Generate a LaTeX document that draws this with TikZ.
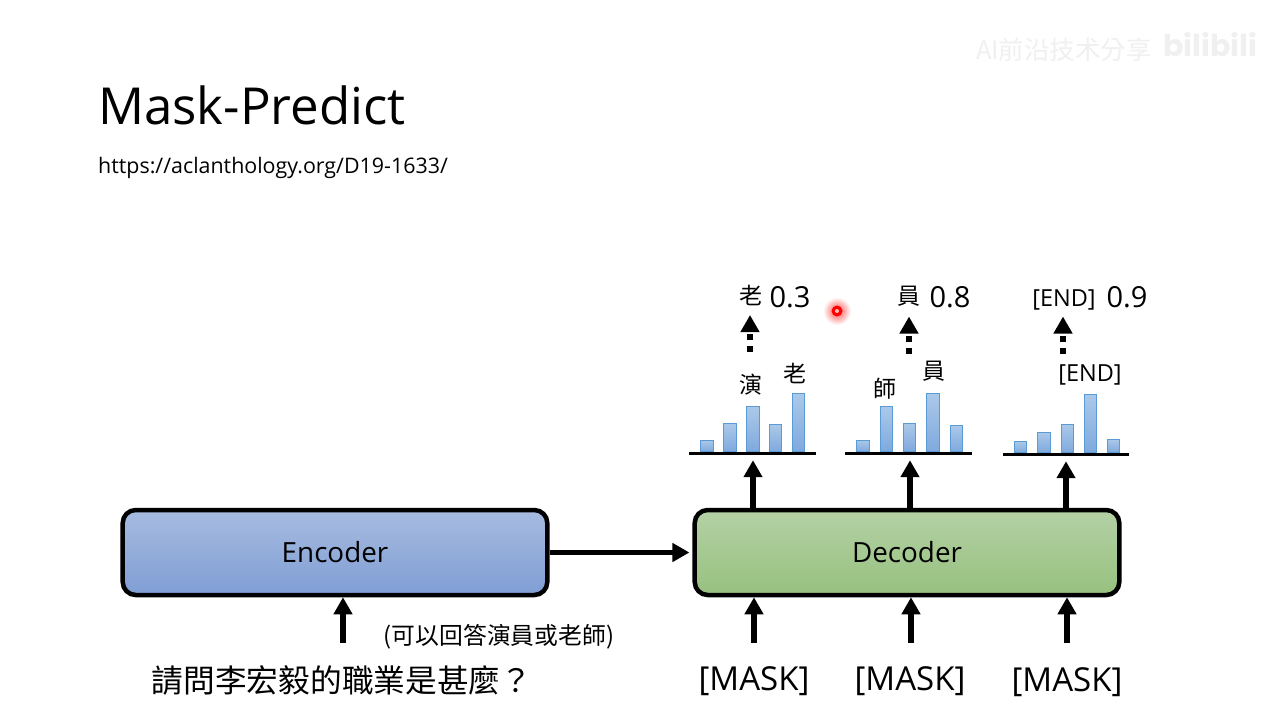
\documentclass[tikz,border=0pt]{standalone}
\usepackage{fontspec}
\setmainfont{Open Sans}
\newfontfamily\cjk{Noto Sans CJK TC}
\newfontfamily\logofont{Poppins}
\usetikzlibrary{arrows.meta}
\definecolor{barline}{HTML}{5B9BD5}
\definecolor{barhi}{HTML}{ABC9E9}
\definecolor{barlo}{HTML}{7FA9DE}
\definecolor{encHi}{HTML}{A7BBE0}
\definecolor{encLo}{HTML}{7F9ED4}
\definecolor{decHi}{HTML}{B4D1A5}
\definecolor{decLo}{HTML}{97C17F}
\tikzset{
  x=1pt,y=-1pt,
  blockbox/.style={rounded corners=13pt,draw=black,line width=4.5pt,outer sep=2.25pt,minimum width=424.6pt,minimum height=85pt,inner sep=0pt,font=\fontsize{27.8}{28}\selectfont},
  flow/.style={line width=5.5pt,-{Triangle[width=18pt,length=17pt]}},
  maybe/.style={line width=6pt,dash pattern=on 6pt off 6pt,-{Triangle[width=18pt,length=17pt]}},
  axisline/.style={line width=3.2pt,black},
  bar/.style={draw=barline,line width=1pt,top color=barhi,bottom color=barlo},
  cjklabel/.style={inner sep=0pt,font=\cjk\fontsize{23}{23}\selectfont},
  score/.style={inner sep=0pt,font=\fontsize{29}{29}\selectfont},
  endlabel/.style={inner sep=0pt,font=\fontsize{23.5}{24}\selectfont},
  masklabel/.style={inner sep=0pt,font=\fontsize{33}{33}\selectfont},
}
\newcommand{\distbar}[4]{\path[bar] (#1,#3) rectangle (#2,#4);}
\begin{document}
\begin{tikzpicture}
\useasboundingbox (0,0) rectangle (1280,720);
\fill[white] (0,0) rectangle (1280,720);
% watermark
\node[inner sep=0pt,text=black!6,font=\cjk\fontsize{25.5}{26}\selectfont] (wm) at (1064,50) {AI前沿技术分享};
\node[inner sep=0pt,text=black!6,font=\logofont\bfseries\fontsize{30}{30}\selectfont] (wmlogo) at (1210,45) {bilibili};
% title
\node[inner sep=0pt,anchor=base west,font=\fontsize{51}{51}\selectfont] (title) at (98,124) {Mask-Predict};
\node[inner sep=0pt,anchor=base west,font=\fontsize{21.4}{22}\selectfont] (url) at (98,173) {https://aclanthology.org/D19-1633/};
% pointer
\shade[inner color=red!70,outer color=white] (837,311) circle (14);
\fill[red] (837,311) circle (5.5);
\fill[white!75!red] (837,311) circle (2);
% blocks
\node[blockbox,top color=encHi,bottom color=encLo] (enc) at (335,552.5) {Encoder};
\node[blockbox,top color=decHi,bottom color=decLo] (dec) at (907,552.5) {Decoder};
\draw[flow,shorten >=3pt] (enc.east) -- (dec.west);
% inputs
\node[inner sep=0pt,font=\cjk\fontsize{31.7}{32}\selectfont] (q) at (342,680) {請問李宏毅的職業是甚麼？};
\node[inner sep=0pt,font=\cjk\fontsize{23.8}{24}\selectfont] (note) at (499,636.5) {(可以回答演員或老師)};
\node[masklabel] (m1) at (754,681.5) {[MASK]};
\node[masklabel] (m2) at (910,681.5) {[MASK]};
\node[masklabel] (m3) at (1067,682.5) {[MASK]};
\coordinate (qa) at (343,643);
\coordinate (a1) at (754,643);
\coordinate (a2) at (911,643);
\coordinate (a3) at (1067,643);
\draw[flow] (qa) -- (qa |- enc.south);
\draw[flow] (a1) -- (a1 |- dec.south);
\draw[flow] (a2) -- (a2 |- dec.south);
\draw[flow] (a3) -- (a3 |- dec.south);
% distribution 1
\coordinate (b1) at (753,453.7);
\draw[axisline] (689,453.7) -- (816.3,453.7);
\distbar{700.3}{713.7}{440.3}{451.5}
\distbar{723.3}{736.7}{423.3}{451.5}
\distbar{746.3}{759.7}{406.3}{451.5}
\distbar{769.3}{781.7}{424.3}{451.5}
\distbar{792.3}{804.7}{393.3}{451.5}
% distribution 2
\coordinate (b2) at (910,453.7);
\draw[axisline] (845,453.7) -- (971.7,453.7);
\distbar{856.3}{869.7}{440.3}{451.5}
\distbar{880.3}{892.7}{406.3}{451.5}
\distbar{903}{915.7}{423.3}{451.5}
\distbar{926.3}{939.7}{393.3}{451.5}
\distbar{950.3}{962.7}{425.3}{451.5}
% distribution 3
\coordinate (b3) at (1066,454.7);
\draw[axisline] (1003,454.7) -- (1129,454.7);
\distbar{1014.3}{1026.7}{441.3}{452.5}
\distbar{1037.3}{1050.7}{432.3}{452.5}
\distbar{1061.3}{1073.7}{424.3}{452.5}
\distbar{1084.3}{1096.7}{394.3}{452.5}
\distbar{1107.3}{1119.7}{439.3}{452.5}
% decoder to distributions
\draw[flow,shorten >=6.5pt] (dec.north -| b1) -- (b1);
\draw[flow,shorten >=6.5pt] (dec.north -| b2) -- (b2);
\draw[flow,shorten >=6.5pt] (dec.north -| b3) -- (b3);
% bar labels
\node[cjklabel] (l1) at (750.5,385) {演};
\node[cjklabel] (l2) at (794.5,373.5) {老};
\node[cjklabel] (l3) at (884.5,388.5) {師};
\node[cjklabel] (l4) at (934,371.5) {員};
\node[endlabel] (l5) at (1090,375) {[END]};
% outputs
\node[cjklabel] (o1) at (750.5,295) {老};
\node[score] (s1) at (790,297.5) {0.3};
\node[cjklabel] (o2) at (909,296.5) {員};
\node[score] (s2) at (950,297.5) {0.8};
\node[endlabel] (o3) at (1064,300) {[END]};
\node[score] (s3) at (1127,297.5) {0.9};
\coordinate (d1) at (750,352);
\coordinate (d2) at (909,353.5);
\coordinate (d3) at (1063,353.5);
\coordinate (t1) at (750,315);
\coordinate (t2) at (909,316.5);
\coordinate (t3) at (1063,316.5);
\draw[maybe] (d1) -- (t1);
\draw[maybe] (d2) -- (t2);
\draw[maybe] (d3) -- (t3);
\end{tikzpicture}
\end{document}
